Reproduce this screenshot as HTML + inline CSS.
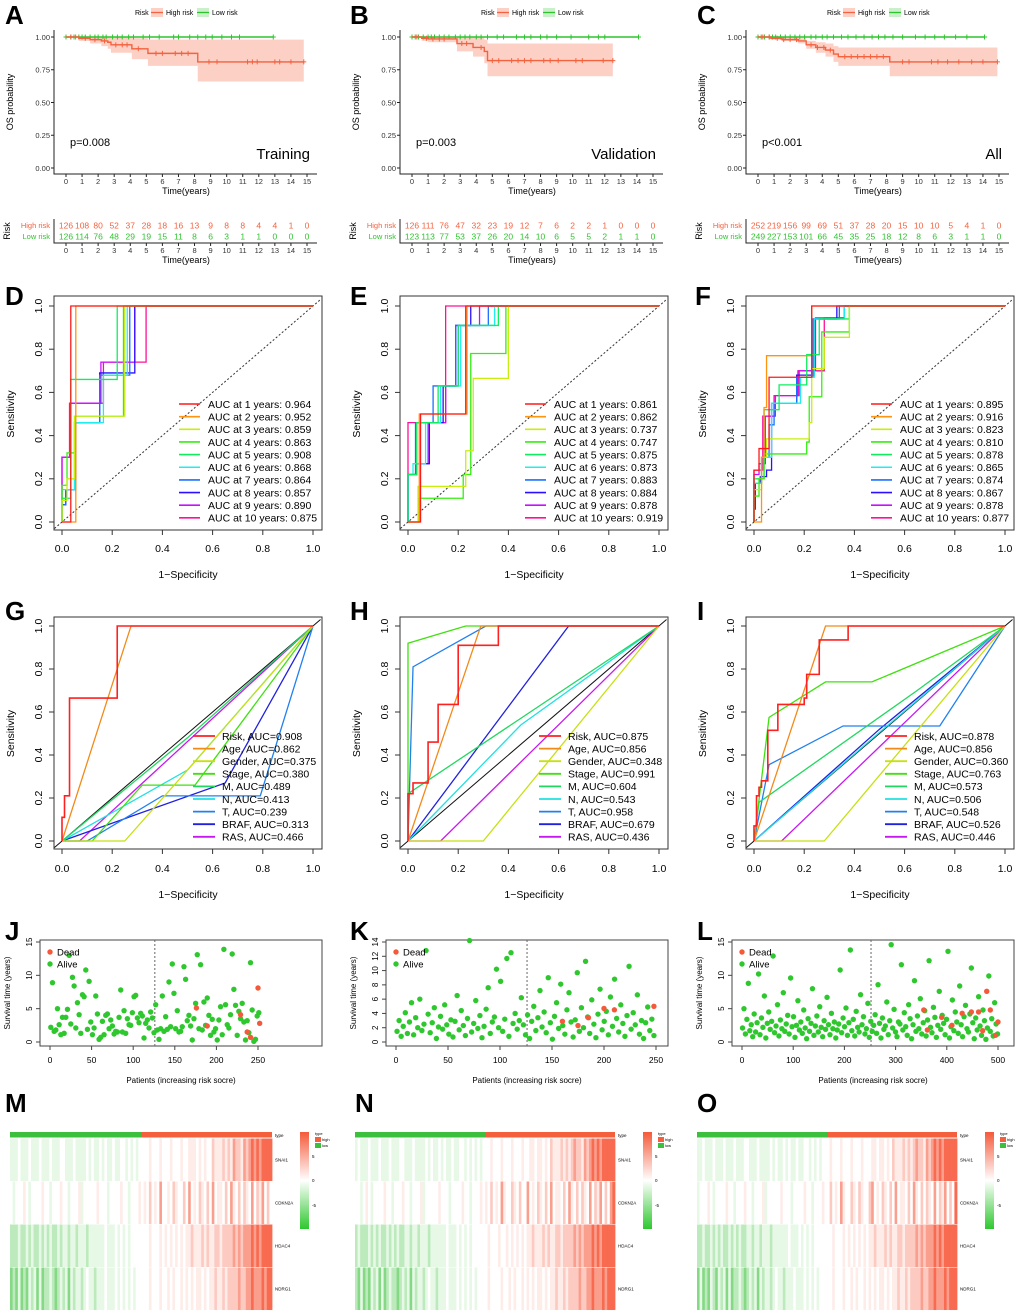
<!DOCTYPE html>
<html><head><meta charset="utf-8"><title>Risk model figure</title>
<style>
html,body{margin:0;padding:0;background:#fff;}
svg{display:block;font-family:"Liberation Sans",Arial,sans-serif;}
</style></head>
<body>
<svg id="fig" width="1020" height="1315" viewBox="0 0 1020 1315" xmlns="http://www.w3.org/2000/svg"></svg>
<script>
// ---------------- DATA ----------------
const kmTicks = [0,1,2,3,4,5,6,7,8,9,10,11,12,13,14,15];
const kmTitles = ['Training','Validation','All'];
const kmPvals = ['p=0.008','p=0.003','p<0.001'];
const kmHighT = [[0,0.8,1.5,2.2,2.6,2.8,4.1,5.1,8.2,14.8],[0,0.6,1,2.8,3.8,4.5,4.7,12.5],[0,0.8,1.5,2.5,3,3.6,4.2,4.7,5,8.2,14.9]];
const kmHighS = [[1,0.99,0.98,0.97,0.96,0.94,0.91,0.875,0.81,0.81],[1,0.99,0.985,0.95,0.92,0.89,0.82,0.82],[1,0.99,0.98,0.97,0.94,0.92,0.90,0.87,0.85,0.81,0.81]];
const kmHighLo = [[1,0.97,0.95,0.93,0.91,0.88,0.83,0.78,0.66,0.66],[1,0.97,0.96,0.89,0.85,0.80,0.70,0.70],[1,0.98,0.97,0.95,0.91,0.88,0.85,0.81,0.78,0.70,0.70]];
const kmHighHi = [[1,1,1,1,1,1,0.99,0.98,0.98,0.98],[1,1,1,1,1,0.98,0.95,0.95],[1,1,1,0.99,0.97,0.96,0.95,0.93,0.92,0.92,0.92]];
const kmHighCens = [[0.3,0.6,1.2,1.8,2.4,3.1,3.5,3.8,4.5,5.6,6,6.8,7.2,7.6,8.9,9.4,11.3,11.6,11.9,13,13.3,14,14.8],
 [0.3,0.9,1.3,1.7,2,3.1,3.4,4.3,5,5.4,6.2,6.6,7,7.4,8.2,8.6,9.1,10.2,10.6,11.9,12.5],
 [0.3,0.7,1.2,1.6,2,2.4,3.3,3.7,4.1,4.5,5.4,5.8,6.2,6.6,7,7.4,7.8,9,9.4,10.8,11.2,11.8,12.5,13.3,14,14.9]];
const kmLowEnd = [12.9,14.1,14.1];
const kmLowCens = [[0,0.3,0.5,0.8,1,1.2,1.5,1.8,2,2.3,2.5,2.9,3.2,3.5,3.9,4.2,4.8,5.2,5.8,6.7,7,7.7,8.2,8.7,9.1,9.7,10.3,10.8,12.9],
 [0,0.2,0.4,0.7,1,1.2,1.4,1.7,2,2.3,2.7,3,3.3,3.6,4,4.3,4.7,5.3,5.7,6.5,7,7.4,8,8.4,9,9.9,11,11.6,12,14.1],
 [0,0.2,0.4,0.7,0.9,1.1,1.4,1.7,2,2.3,2.6,2.9,3.3,3.6,4,4.3,4.7,5.2,5.6,6.1,6.6,7.1,7.5,7.9,8.4,9,9.8,10.4,11,11.6,12.3,13,14.1]];
const kmHighN = [[126,108,80,52,37,28,18,16,13,9,8,8,4,4,1,0],[126,111,76,47,32,23,19,12,7,6,2,2,1,0,0,0],[252,219,156,99,69,51,37,28,20,15,10,10,5,4,1,0]];
const kmLowN = [[126,114,76,48,29,19,15,11,8,6,3,1,1,0,0,0],[123,113,77,53,37,26,20,14,10,6,5,5,2,1,1,0],[249,227,153,101,66,45,35,25,18,12,8,6,3,1,1,0]];

const rocTicks = [0,0.2,0.4,0.6,0.8,1.0];
const rocYears = [1,2,3,4,5,6,7,8,9,10];
const rocAuc = [[0.964,0.952,0.859,0.863,0.908,0.868,0.864,0.857,0.890,0.875],
 [0.861,0.862,0.737,0.747,0.875,0.873,0.883,0.884,0.878,0.919],
 [0.895,0.916,0.823,0.810,0.878,0.865,0.874,0.867,0.878,0.877]];
const rocCurves = [[
 [[0,0],[0.035,0],[0.035,1],[1,1]],
 [[0,0],[0.055,0],[0.055,1],[1,1]],
 [[0,0],[0,0.1],[0.02,0.1],[0.02,0.2],[0.05,0.2],[0.05,0.49],[0.25,0.49],[0.25,1],[1,1]],
 [[0,0],[0,0.17],[0.02,0.17],[0.02,0.32],[0.05,0.32],[0.05,0.49],[0.245,0.49],[0.245,1],[1,1]],
 [[0,0],[0,0.11],[0.035,0.11],[0.035,0.66],[0.22,0.66],[0.22,1],[1,1]],
 [[0,0],[0,0.15],[0.05,0.15],[0.05,0.46],[0.165,0.46],[0.165,0.68],[0.26,0.68],[0.26,1],[1,1]],
 [[0,0],[0,0.08],[0.015,0.08],[0.015,0.15],[0.05,0.15],[0.05,0.46],[0.15,0.46],[0.15,0.68],[0.27,0.68],[0.27,1],[1,1]],
 [[0,0],[0,0.08],[0.015,0.08],[0.015,0.15],[0.055,0.15],[0.055,0.46],[0.15,0.46],[0.15,0.69],[0.29,0.69],[0.29,1],[1,1]],
 [[0,0],[0,0.3],[0.035,0.3],[0.035,0.55],[0.155,0.55],[0.155,0.74],[0.29,0.74],[0.29,1],[1,1]],
 [[0,0],[0,0.3],[0.03,0.3],[0.03,0.55],[0.165,0.55],[0.165,0.74],[0.335,0.74],[0.335,1],[1,1]]
],[
 [[0,0],[0.05,0],[0.05,0.5],[0.23,0.5],[0.23,1],[1,1]],
 [[0,0],[0.045,0],[0.045,0.5],[0.235,0.5],[0.235,1],[1,1]],
 [[0,0],[0.04,0],[0.04,0.165],[0.23,0.165],[0.23,0.33],[0.26,0.33],[0.26,0.665],[0.4,0.665],[0.4,1],[1,1]],
 [[0,0],[0.045,0],[0.045,0.11],[0.22,0.11],[0.22,0.22],[0.25,0.22],[0.25,0.78],[0.39,0.78],[0.39,1],[1,1]],
 [[0,0],[0,0.22],[0.035,0.22],[0.035,0.46],[0.12,0.46],[0.12,0.63],[0.2,0.63],[0.2,0.91],[0.36,0.91],[0.36,1],[1,1]],
 [[0,0],[0,0.22],[0.02,0.22],[0.02,0.27],[0.07,0.27],[0.07,0.46],[0.13,0.46],[0.13,0.63],[0.21,0.63],[0.21,0.91],[0.345,0.91],[0.345,1],[1,1]],
 [[0,0],[0,0.22],[0.03,0.22],[0.03,0.46],[0.1,0.46],[0.1,0.63],[0.19,0.63],[0.19,0.91],[0.32,0.91],[0.32,1],[1,1]],
 [[0,0],[0,0.22],[0.035,0.22],[0.035,0.27],[0.085,0.27],[0.085,0.46],[0.14,0.46],[0.14,0.63],[0.19,0.63],[0.19,0.91],[0.25,0.91],[0.25,1],[1,1]],
 [[0,0],[0,0.22],[0.035,0.22],[0.035,0.27],[0.08,0.27],[0.08,0.46],[0.15,0.46],[0.15,0.63],[0.2,0.63],[0.2,0.91],[0.285,0.91],[0.285,1],[1,1]],
 [[0,0],[0,0.46],[0.15,0.46],[0.15,1],[1,1]]
],[
 [[0,0],[0,0.24],[0.02,0.24],[0.02,0.34],[0.06,0.34],[0.06,0.67],[0.23,0.67],[0.23,1],[1,1]],
 [[0,0],[0.03,0],[0.03,0.3],[0.04,0.3],[0.04,0.53],[0.05,0.53],[0.05,0.77],[0.23,0.77],[0.23,1],[1,1]],
 [[0,0],[0,0.15],[0.03,0.15],[0.03,0.3],[0.05,0.3],[0.05,0.385],[0.22,0.385],[0.22,0.46],[0.23,0.46],[0.23,0.71],[0.28,0.71],[0.28,0.855],[0.38,0.855],[0.38,1],[1,1]],
 [[0,0],[0,0.12],[0.02,0.12],[0.02,0.2],[0.04,0.2],[0.04,0.315],[0.21,0.315],[0.21,0.37],[0.22,0.37],[0.22,0.58],[0.27,0.58],[0.27,0.88],[0.38,0.88],[0.38,1],[1,1]],
 [[0,0],[0,0.2],[0.04,0.2],[0.04,0.52],[0.1,0.52],[0.1,0.635],[0.21,0.635],[0.21,0.775],[0.26,0.775],[0.26,0.94],[0.38,0.94],[0.38,1],[1,1]],
 [[0,0],[0,0.18],[0.03,0.18],[0.03,0.3],[0.07,0.3],[0.07,0.55],[0.185,0.55],[0.185,0.67],[0.24,0.67],[0.24,0.94],[0.36,0.94],[0.36,1],[1,1]],
 [[0,0],[0,0.18],[0.03,0.18],[0.03,0.3],[0.06,0.3],[0.06,0.45],[0.08,0.45],[0.08,0.55],[0.17,0.55],[0.17,0.67],[0.235,0.67],[0.235,0.94],[0.34,0.94],[0.34,1],[1,1]],
 [[0,0],[0,0.06],[0.005,0.06],[0.005,0.18],[0.025,0.18],[0.025,0.21],[0.05,0.21],[0.05,0.24],[0.07,0.24],[0.07,0.55],[0.17,0.55],[0.17,0.68],[0.24,0.68],[0.24,0.94],[0.33,0.94],[0.33,1],[1,1]],
 [[0,0],[0,0.22],[0.02,0.22],[0.02,0.27],[0.045,0.27],[0.045,0.49],[0.085,0.49],[0.085,0.585],[0.18,0.585],[0.18,0.7],[0.245,0.7],[0.245,0.945],[0.36,0.945],[0.36,1],[1,1]],
 [[0,0],[0,0.24],[0.035,0.24],[0.035,0.49],[0.08,0.49],[0.08,0.585],[0.175,0.585],[0.175,0.7],[0.28,0.7],[0.28,0.945],[0.36,0.945],[0.36,1],[1,1]]
]];

const clinNames = ['Risk','Age','Gender','Stage','M','N','T','BRAF','RAS'];
const clinAuc = [[0.908,0.862,0.375,0.380,0.489,0.413,0.239,0.313,0.466],
 [0.875,0.856,0.348,0.991,0.604,0.543,0.958,0.679,0.436],
 [0.878,0.856,0.360,0.763,0.573,0.506,0.548,0.526,0.446]];
const clinCurves = [[
 [[0,0],[0,0.11],[0.01,0.11],[0.01,0.21],[0.03,0.21],[0.03,0.665],[0.22,0.665],[0.22,1],[1,1]],
 [[0,0],[0.275,1],[1,1]],
 [[0,0],[0.25,0],[0.5,0.33],[1,1]],
 [[0,0],[0.12,0],[0.32,0.26],[0.53,0.26],[1,1]],
 [[0,0],[0.5,0.48],[1,1]],
 [[0,0],[0.5,0.33],[1,1]],
 [[0,0],[0.1,0],[0.4,0.21],[0.79,0.21],[1,1]],
 [[0,0],[0.65,0.27],[1,1]],
 [[0,0],[0.07,0],[1,1]]
],[
 [[0,0],[0,0.22],[0.02,0.22],[0.02,0.27],[0.08,0.27],[0.08,0.46],[0.12,0.46],[0.12,0.635],[0.2,0.635],[0.2,0.91],[0.36,0.91],[0.36,1],[1,1]],
 [[0,0],[0.29,1],[1,1]],
 [[0,0],[0.3,0],[1,1]],
 [[0,0],[0,0.92],[0.23,1],[1,1]],
 [[0,0],[0,0.22],[1,1]],
 [[0,0],[0.45,0.54],[1,1]],
 [[0,0],[0.02,0.81],[0.31,1],[1,1]],
 [[0,0],[0.64,1],[1,1]],
 [[0,0],[0.13,0],[1,1]]
],[
 [[0,0],[0,0.07],[0.01,0.07],[0.01,0.21],[0.02,0.21],[0.02,0.25],[0.03,0.25],[0.03,0.28],[0.055,0.28],[0.055,0.515],[0.095,0.515],[0.095,0.635],[0.2,0.635],[0.2,0.665],[0.21,0.665],[0.21,0.775],[0.26,0.775],[0.26,0.935],[0.375,0.935],[0.375,1],[1,1]],
 [[0,0],[0.285,1],[1,1]],
 [[0,0],[0.28,0],[1,1]],
 [[0,0],[0.06,0.575],[0.285,0.74],[0.47,0.74],[1,1]],
 [[0,0],[0.02,0.18],[0.65,0.7],[1,1]],
 [[0,0],[0.5,0.505],[1,1]],
 [[0,0],[0.06,0.355],[0.355,0.535],[0.74,0.535],[1,1]],
 [[0,0],[0.5,0.52],[1,1]],
 [[0,0],[0.11,0],[1,1]]
]];

const scN = [252, 249, 501];
const scCut = [126, 126, 252];
const scXTicks = [[0,50,100,150,200,250],[0,50,100,150,200,250],[0,100,200,300,400,500]];
const scYTicks = [[0,5,10,15],[0,2,4,6,8,10,12,14],[0,5,10,15]];
const scYMax = [15, 14, 15];
const aliveJ = [2.2,8.9,1.6,1.8,5.0,2.6,1.1,3.7,1.3,3.7,4.9,13.0,2.7,9.7,8.4,2.1,5.9,4.1,1.3,7.1,6.8,10.8,1.9,9.1,3.0,1.1,2.1,6.9,4.2,0.4,0.7,3.1,1.1,4.0,4.2,2.0,3.3,2.4,1.2,1.6,1.5,3.7,7.8,1.5,4.7,1.3,3.5,2.6,2.5,4.4,6.8,7.0,3.6,2.9,4.3,3.9,0.6,2.8,3.3,2.1,4.5,3.6,1.4,5.6,1.8,0.4,2.0,6.9,1.6,3.8,1.9,9.0,2.3,11.7,7.3,2.0,4.7,1.5,1.6,2.3,11.3,9.4,3.2,4.0,2.4,0.3,3.5,5.8,13.1,2.0,11.6,1.8,6.0,2.5,6.6,4.0,1.0,3.4,1.5,2.0,0.3,3.3,5.3,1.1,13.9,5.6,2.6,2.1,4.1,13.2,7.9,5.5,1.0,4.6,3.5,5.8,3.0,0.3,3.2,1.4,11.9,4.8,0.1,0.4,3.9,4.4];
const aliveK = [1.5,3.0,0.8,2.2,4.1,1.2,2.8,5.5,1.0,3.4,2.0,6.0,1.6,2.5,12.8,3.9,1.3,2.7,4.8,0.5,2.1,3.6,1.8,5.2,2.4,1.1,3.1,0.7,2.9,6.5,1.7,4.4,2.3,0.9,3.3,14.2,1.4,2.6,5.8,1.9,3.7,0.6,2.2,4.6,7.6,1.2,2.8,3.5,10.2,2.0,8.5,1.5,3.2,11.7,0.8,12.5,2.6,4.0,1.8,3.0,6.2,2.4,1.0,3.8,0.5,2.9,5.0,1.6,3.4,7.2,2.1,4.2,1.3,9.0,2.7,0.4,3.6,5.5,1.9,8.1,2.3,1.1,4.5,6.9,2.8,0.7,3.1,9.7,1.5,4.8,2.0,11.3,3.5,1.2,5.9,2.5,0.6,3.9,7.4,1.7,2.9,4.3,1.0,6.3,2.2,8.8,3.3,1.4,5.2,2.6,0.8,3.7,10.6,1.8,4.1,2.4,6.6,1.1,3.0,0.5,2.7,4.9,1.6,3.2,0.9];
const aliveL = [2.1,5.0,1.2,3.4,8.8,1.7,2.6,0.8,4.2,1.5,2.9,10.2,1.1,3.6,2.2,6.9,0.6,2.8,4.5,1.9,3.1,12.9,1.4,2.4,5.6,0.9,3.3,2.0,7.4,1.6,2.7,4.0,1.2,9.6,2.3,3.8,0.7,2.5,6.2,1.8,3.0,1.3,4.8,2.1,0.5,3.5,1.6,2.8,8.0,1.0,2.4,3.9,1.5,5.3,2.2,0.8,3.2,1.9,6.7,2.6,1.1,4.3,2.0,3.0,0.6,1.8,2.7,10.8,1.4,3.6,2.3,5.1,1.0,2.9,13.8,1.7,3.4,0.9,4.6,2.2,1.5,7.1,2.6,3.8,1.2,2.0,5.8,0.7,3.1,1.6,2.5,4.1,1.3,8.6,2.8,0.6,3.6,1.9,2.4,6.0,1.1,3.2,14.6,2.1,4.9,1.5,0.8,3.0,2.7,11.6,1.8,4.4,2.3,1.0,5.6,3.5,0.5,2.6,9.2,1.6,3.9,2.0,6.5,1.2,2.9,4.7,0.9,3.3,12.2,2.2,1.4,5.2,3.7,0.7,2.5,7.6,1.9,4.0,2.8,1.1,3.4,13.6,0.6,2.3,6.3,1.7,4.5,3.0,1.3,8.4,2.6,0.8,3.8,5.5,2.0,1.5,4.2,11.1,2.9,0.5,3.6,1.8,6.8,2.4,1.0,4.8,3.2,0.4,2.1,9.9,1.6,3.5,0.9,5.9,2.7,1.2];
const deadIdx = [[176,189,229,237,241,250,252],[160,175,185,200,210,248],[355,362,390,410,430,448,462,470,478,485,495,500]];
const deadT = [[5.1,2.4,4.1,1.5,0.7,8.1,2.8],[2.9,2.3,3.4,4.7,4.5,5.0],[4.8,1.8,3.7,2.5,4.3,4.5,4.5,1.7,7.6,4.8,1.0,3.0]];

const genes = ['SNAI1','CDKN2A','HDAC4','NDRG1'];
const heatM = [
 "33343334333433343334433343333434334343343344343434"+"44454445444544454455545454465556565766576787878888",
 "43444543444454434445443444534444454443444454434445"+"45464547445465446474546546474554647546465474657464",
 "22232232322323232232332332333233333343334343434444"+"44454445454545454556555656556656666767677787878888",
 "12131213231312232123231323323433233343334343434344"+"44454445445454454545455454556556566667667787778788"];
const heatN = [
 "34333433343334333443334333343433434334334434343434"+"44544454445444544554554546555656567665767878788888",
 "44345434444544344454434445344444544434444544344454"+"54645475446546447454654647455464754646547465746478",
 "23222323232232323223323323332333333433343434344444"+"45444544545454545565556565566566667676777878788888",
 "21312132313123221232313233234332333433343434343444"+"45444454454544545454554545565565666676677877787888"];
const heatO = [
 "33433343334333433344333433334343343433433443434344"+"45444544454445444554554546555656567665767878788888",
 "34445434444544344454434445344444544434444544344454"+"46454754465465446745465464745546475464654746574648",
 "22322323232232323223323323332333333433343434344444"+"44544454545454545565556565566566667676777878788888",
 "13121321323131223212323132332343323334333434343444"+"44544454454544545454554545565565666676677877787888"];

// ---------------- DRAWING ----------------
const NS = 'http://www.w3.org/2000/svg';
const svg = document.getElementById('fig');
function mk(tag, attrs, parent) {
  const e = document.createElementNS(NS, tag);
  for (const k in attrs) e.setAttribute(k, attrs[k]);
  (parent || svg).appendChild(e);
  return e;
}
function txt(s, x, y, size, parent, opts) {
  opts = opts || {};
  const t = mk('text', {x: x, y: y, 'font-size': size, fill: opts.fill || '#000', 'text-anchor': opts.anchor || 'start'}, parent);
  if (opts.weight) t.setAttribute('font-weight', opts.weight);
  if (opts.rot) t.setAttribute('transform', 'rotate(-90 ' + x + ' ' + y + ')');
  t.textContent = s;
  return t;
}
const HIGH = '#f4623f', LOW = '#2fc42f';

const letters = [['A',5,24],['B',350,24],['C',697,24],['D',5,305],['E',350,305],['F',695,305],['G',5,620],['H',350,620],['I',697,620],['J',5,940],['K',350,940],['L',697,940],['M',5,1112],['N',355,1112],['O',697,1112]];
letters.forEach(l => {
  const t = txt(l[0], l[1], l[2], 26, svg, {weight: 'bold'});
  
  
});

function kmPanel(p) {
  const dx = p * 346;
  const g = mk('g', {});
  
  
  const X = t => dx + 66 + t * (241 / 15);
  const Ys = s => 37 + (1 - s) * 524 / 4;
  const lg = mk('g', {}, g);
  
  
  txt('Risk', dx + 135, 15, 7, lg);
  mk('rect', {x: dx + 151, y: 8, width: 12, height: 9, fill: '#fdd0c6'}, lg);
  mk('line', {x1: dx + 151, y1: 12.5, x2: dx + 163, y2: 12.5, stroke: HIGH, 'stroke-width': 1.3}, lg);
  txt('High risk', dx + 166, 15, 7, lg);
  mk('rect', {x: dx + 197, y: 8, width: 12, height: 9, fill: '#c9f0c9'}, lg);
  mk('line', {x1: dx + 197, y1: 12.5, x2: dx + 209, y2: 12.5, stroke: LOW, 'stroke-width': 1.3}, lg);
  txt('Low risk', dx + 212, 15, 7, lg);
  const T = kmHighT[p], S = kmHighS[p], LO = kmHighLo[p], HI = kmHighHi[p];
  let up = '', dn = '';
  for (let i = 0; i < T.length; i++) {
    const x0 = X(T[i]), x1 = X(i + 1 < T.length ? T[i + 1] : T[i]);
    up += (i ? 'L' : 'M') + x0 + ',' + Ys(HI[i]) + 'L' + x1 + ',' + Ys(HI[i]);
  }
  for (let i = T.length - 1; i >= 0; i--) {
    const x0 = X(T[i]), x1 = X(i + 1 < T.length ? T[i + 1] : T[i]);
    dn += 'L' + x1 + ',' + Ys(LO[i]) + 'L' + x0 + ',' + Ys(LO[i]);
  }
  const band = mk('path', {d: up + dn + 'Z', fill: '#fdcbc0', opacity: 0.9}, g);
  
  
  const lowL = mk('line', {x1: X(0), y1: Ys(1), x2: X(kmLowEnd[p]), y2: Ys(1), stroke: LOW, 'stroke-width': 1.4}, g);
  
  
  kmLowCens[p].forEach(c => {
    const cx = X(c), cy = Ys(1);
    mk('path', {d: `M${cx - 2.5},${cy}h5M${cx},${cy - 2.5}v5`, stroke: LOW, 'stroke-width': 1}, g);
  });
  let d = '';
  for (let i = 0; i < T.length; i++) {
    const x0 = X(T[i]);
    d += (i ? 'L' + x0 + ',' + Ys(S[i - 1]) + 'L' : 'M') + x0 + ',' + Ys(S[i]);
  }
  const hl = mk('path', {d: d, fill: 'none', stroke: HIGH, 'stroke-width': 1.4}, g);
  
  
  kmHighCens[p].forEach(c => {
    let s = S[0];
    for (let i = 0; i < T.length; i++) if (T[i] <= c) s = S[i];
    const cx = X(c), cy = Ys(s);
    mk('path', {d: `M${cx - 2.5},${cy}h5M${cx},${cy - 2.5}v5`, stroke: HIGH, 'stroke-width': 1}, g);
  });
  mk('path', {d: `M${dx + 54},30V174H${dx + 317}`, fill: 'none', stroke: '#222', 'stroke-width': 1}, g);
  [0, 0.25, 0.5, 0.75, 1].forEach(v => {
    mk('line', {x1: dx + 51, y1: Ys(v), x2: dx + 54, y2: Ys(v), stroke: '#222'}, g);
    txt(v.toFixed(2), dx + 50, Ys(v) + 2.8, 7.5, g, {anchor: 'end', fill: '#333'});
  });
  kmTicks.forEach(t => {
    mk('line', {x1: X(t), y1: 174, x2: X(t), y2: 177, stroke: '#222'}, g);
    txt(String(t), X(t), 184, 7.5, g, {anchor: 'middle', fill: '#333'});
  });
  txt('Time(years)', dx + 186, 194, 9, g, {anchor: 'middle'});
  txt('OS probability', dx + 13, 102, 9, g, {anchor: 'middle', rot: true});
  txt(kmPvals[p], dx + 70, 146, 11, g);
  txt(kmTitles[p], dx + 310, 159, 15, g, {anchor: 'end'});
  const rt = mk('g', {}, g);
  
  
  txt('Risk', dx + 10, 231, 9, rt, {anchor: 'middle', rot: true});
  txt('High risk', dx + 50, 228, 7.5, rt, {anchor: 'end', fill: HIGH});
  txt('Low risk', dx + 50, 239, 7.5, rt, {anchor: 'end', fill: LOW});
  kmTicks.forEach((t, i) => {
    txt(String(kmHighN[p][i]), X(t), 228.5, 8.5, rt, {anchor: 'middle', fill: HIGH});
    txt(String(kmLowN[p][i]), X(t), 239.5, 8.5, rt, {anchor: 'middle', fill: LOW});
    mk('line', {x1: X(t), y1: 243, x2: X(t), y2: 246, stroke: '#222'}, rt);
    txt(String(t), X(t), 253, 7.5, rt, {anchor: 'middle', fill: '#333'});
  });
  mk('path', {d: `M${dx + 54},219V243H${dx + 317}`, fill: 'none', stroke: '#222'}, rt);
  txt('Time(years)', dx + 186, 263, 9, rt, {anchor: 'middle'});
}
[0, 1, 2].forEach(kmPanel);

function rocFrame(g, dx, top, y0, y1, labY, titY) {
  const X = f => dx + 62 + f * 251;
  const Y = s => y0 - s * (y0 - y1);
  mk('rect', {x: dx + 54, y: top, width: 268, height: y0 + 8 - top, fill: 'none', stroke: '#333', 'stroke-width': 1}, g);
  rocTicks.forEach(v => {
    mk('line', {x1: X(v), y1: y0 + 8, x2: X(v), y2: y0 + 13, stroke: '#333'}, g);
    txt(v.toFixed(1), X(v), labY, 10.5, g, {anchor: 'middle'});
    mk('line', {x1: dx + 49, y1: Y(v), x2: dx + 54, y2: Y(v), stroke: '#333'}, g);
    txt(v.toFixed(1), dx + 42, Y(v), 10.5, g, {anchor: 'middle', rot: true});
  });
  txt('1\u2212Specificity', dx + 188, titY, 10.5, g, {anchor: 'middle'});
  txt('Sensitivity', dx + 14, (y0 + y1) / 2, 10.5, g, {anchor: 'middle', rot: true});
  return [X, Y];
}
const yrCols = ['#ff1a1a','#ff9410','#c8ee10','#35ee10','#10ee60','#20eeee','#1a70ff','#2a10ff','#c810ff','#ff109a'];
const clCols = ['#ff2020','#f28a1a','#c8e010','#40e010','#20d860','#20e0e0','#2080f0','#2020e0','#c818f0'];

function rocPanel(p) {
  const dx = p * 346;
  const g = mk('g', {});
  
  
  const [X, Y] = rocFrame(g, dx, 296, 522, 306, 552, 578);
  mk('line', {x1: X(-0.03), y1: Y(-0.03), x2: X(1.03), y2: Y(1.03), stroke: '#333', 'stroke-dasharray': '2,2'}, g);
  for (let i = rocCurves[p].length - 1; i >= 0; i--) {
    const pts = rocCurves[p][i].map(q => X(q[0]) + ',' + Y(q[1])).join(' ');
    const c = mk('polyline', {points: pts, fill: 'none', stroke: yrCols[i], 'stroke-width': 1.3}, g);
    
    
  }
  const lg = mk('g', {}, g);
  
  
  rocYears.forEach((yr, i) => {
    const yy = 404 + i * 12.65;
    mk('line', {x1: dx + 179, y1: yy, x2: dx + 200, y2: yy, stroke: yrCols[i], 'stroke-width': 1.6}, lg);
    txt('AUC at ' + yr + ' years: ' + rocAuc[p][i].toFixed(3), dx + 208, yy + 3.8, 10.5, lg);
  });
}
[0, 1, 2].forEach(rocPanel);

function clinPanel(p) {
  const dx = p * 346;
  const g = mk('g', {});
  
  
  const [X, Y] = rocFrame(g, dx, 617, 841, 626, 872, 898);
  mk('line', {x1: X(-0.03), y1: Y(-0.03), x2: X(1.03), y2: Y(1.03), stroke: '#111', 'stroke-width': 1}, g);
  for (let i = clinCurves[p].length - 1; i >= 0; i--) {
    const pts = clinCurves[p][i].map(q => X(q[0]) + ',' + Y(q[1])).join(' ');
    const c = mk('polyline', {points: pts, fill: 'none', stroke: clCols[i], 'stroke-width': i === 0 ? 1.6 : 1.3}, g);
    
    
  }
  const lg = mk('g', {}, g);
  
  
  clinNames.forEach((nm, i) => {
    const yy = 736 + i * 12.6;
    mk('line', {x1: dx + 193, y1: yy, x2: dx + 215, y2: yy, stroke: clCols[i], 'stroke-width': 1.8}, lg);
    txt(nm + ', AUC=' + clinAuc[p][i].toFixed(3), dx + 222, yy + 3.8, 10.5, lg);
  });
}
[0, 1, 2].forEach(clinPanel);

const aliveArr = [aliveJ, aliveK, aliveL];
function scPanel(p) {
  const dx = p * 346;
  const g = mk('g', {});
  
  
  const x0 = dx + 50;
  const xmax = scXTicks[p][scXTicks[p].length - 1];
  const X = i => x0 + i * (p === 2 ? 256 : (p === 1 ? 260 : 208)) / xmax;
  const Y = v => 1042 - v * 100 / scYMax[p];
  mk('rect', {x: dx + 40, y: 940, width: 282, height: 106, fill: 'none', stroke: '#444'}, g);
  scXTicks[p].forEach(v => {
    mk('line', {x1: X(v), y1: 1046, x2: X(v), y2: 1050, stroke: '#444'}, g);
    txt(String(v), X(v), 1063, 8.5, g, {anchor: 'middle'});
  });
  scYTicks[p].forEach(v => {
    mk('line', {x1: dx + 36, y1: Y(v), x2: dx + 40, y2: Y(v), stroke: '#444'}, g);
    txt(String(v), dx + 32, Y(v), 8, g, {anchor: 'middle', rot: true});
  });
  txt('Patients (increasing risk socre)', dx + 181, 1083, 8, g, {anchor: 'middle'});
  txt('Survival time (years)', dx + 10, 993, 8, g, {anchor: 'middle', rot: true});
  mk('line', {x1: X(scCut[p]), y1: 940, x2: X(scCut[p]), y2: 1046, stroke: '#666', 'stroke-dasharray': '2,2'}, g);
  const a = aliveArr[p];
  const step = scN[p] / a.length;
  a.forEach((v, i) => {
    mk('circle', {cx: X(i * step + 1), cy: Y(v), r: 2.7, fill: '#2ec82e'}, g);
  });
  deadIdx[p].forEach((ix, i) => {
    mk('circle', {cx: X(ix), cy: Y(deadT[p][i]), r: 2.7, fill: '#f45a3a'}, g);
  });
  const lg = mk('g', {}, g);
  
  
  mk('circle', {cx: dx + 50, cy: 952, r: 2.7, fill: '#f45a3a'}, lg);
  txt('Dead', dx + 57, 955.5, 9.5, lg);
  mk('circle', {cx: dx + 50, cy: 964, r: 2.7, fill: '#2ec82e'}, lg);
  txt('Alive', dx + 57, 967.5, 9.5, lg);
}
[0, 1, 2].forEach(scPanel);

function lvlColor(v) {
  const t = (v - 4) / 4;
  const g0 = [46, 190, 46], r0 = [247, 90, 60], w = [255, 255, 255];
  const tgt = t < 0 ? g0 : r0;
  const a = Math.pow(Math.min(1, Math.abs(t)), 1.5) * 0.9;
  const c = w.map((wv, k) => Math.round(wv + (tgt[k] - wv) * a));
  return 'rgb(' + c.join(',') + ')';
}
const heatData = [heatM, heatN, heatO];
const heatX = [[10, 272], [355, 615], [697, 957]];
function heatPanel(p) {
  const g = mk('g', {});
  
  
  const [xa, xb] = heatX[p];
  const w = xb - xa;
  const mid = xa + w * 0.5;
  mk('rect', {x: xa, y: 1132, width: mid - xa, height: 5.5, fill: '#3cbf3c'}, g);
  mk('rect', {x: mid, y: 1132, width: xb - mid, height: 5.5, fill: '#f45f3c'}, g);
  txt('type', xb + 3, 1137, 4.5, g);
  heatData[p].forEach((row, r) => {
    const n = row.length, cw = w / n;
    const y = 1138.5 + r * 43;
    for (let i = 0; i < n; i++) {
      mk('rect', {x: xa + i * cw, y: y, width: cw + 0.4, height: 42.5, fill: lvlColor(+row[i])}, g);
    }
    txt(genes[r], xb + 3, y + 23, 4.5, g);
  });
  const lx = xb + 28;
  const grad = mk('rect', {x: lx, y: 1132, width: 9, height: 97, fill: 'url(#hk)'}, g);
  
  
  txt('5', lx + 12, 1158, 4.5, g); txt('0', lx + 12, 1182, 4.5, g); txt('-5', lx + 12, 1207, 4.5, g);
  txt('type', lx + 15, 1135, 4, g);
  mk('rect', {x: lx + 15, y: 1137, width: 6, height: 5, fill: '#f45f3c'}, g);
  mk('rect', {x: lx + 15, y: 1143, width: 6, height: 5, fill: '#3cbf3c'}, g);
  txt('high', lx + 22, 1141, 4, g); txt('low', lx + 22, 1147, 4, g);
}
const defs = mk('defs', {});
const lgd = mk('linearGradient', {id: 'hk', x1: 0, y1: 0, x2: 0, y2: 1}, defs);
mk('stop', {offset: '0', 'stop-color': '#f45a3a'}, lgd);
mk('stop', {offset: '0.5', 'stop-color': '#ffffff'}, lgd);
mk('stop', {offset: '1', 'stop-color': '#2ec82e'}, lgd);
[0, 1, 2].forEach(heatPanel);
</script>
</body></html>
